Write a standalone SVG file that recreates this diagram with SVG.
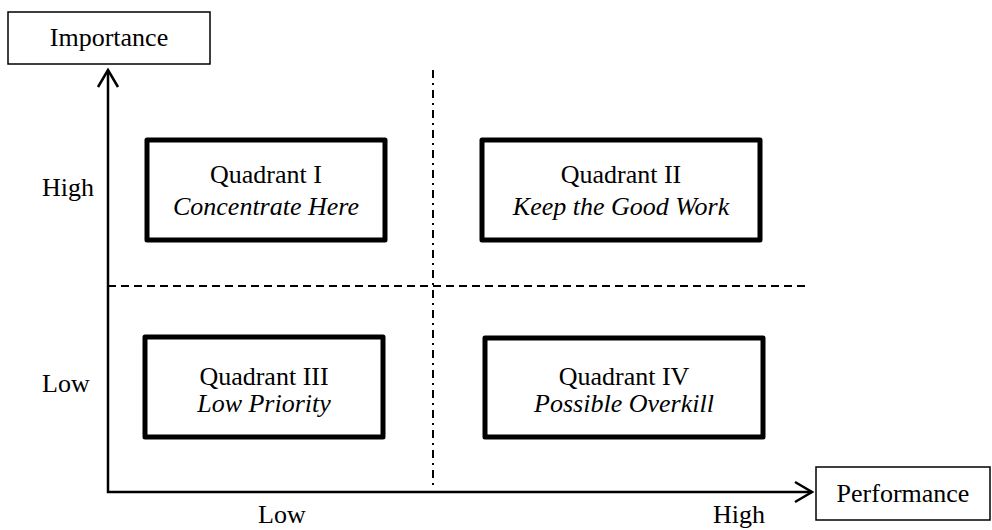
<svg xmlns="http://www.w3.org/2000/svg" width="992" height="530" viewBox="0 0 992 530">
<style>
text{font-family:"Liberation Serif","Times New Roman",serif;font-size:26px;fill:#000;text-anchor:middle}
.it{font-style:italic}
.lab{text-anchor:start}
.quad{fill:#fff;stroke:#000;stroke-width:5;stroke-linejoin:round}
.axbox{fill:#fff;stroke:#000;stroke-width:1.5}
.axis{stroke:#000;stroke-width:2.5;fill:none}
.dash{stroke:#000;stroke-width:2;stroke-dasharray:8 5;fill:none}
.dashdot{stroke:#000;stroke-width:2;stroke-dasharray:8 5 2 5;fill:none}
</style>
<rect width="992" height="530" fill="#fff"/>
<g id="connectors">
<path class="dash" d="M108 286H808"/>
<path class="dashdot" d="M433 70V488"/>
<path class="axis" d="M108 70V492H812"/>
<path class="axis" d="M98 87L108 70L118 87"/>
<path class="axis" d="M795 482L812 492L795 502"/>
</g>
<g id="importance">
<rect class="axbox" x="8" y="12" width="202" height="52"/>
<text x="109" y="46">Importance</text>
</g>
<g id="performance">
<rect class="axbox" x="816" y="467" width="174" height="53"/>
<text x="903" y="502">Performance</text>
</g>
<g id="q1">
<rect class="quad" x="147" y="140" width="238" height="100"/>
<text x="266" y="183">Quadrant I</text>
<text class="it" x="266" y="215">Concentrate Here</text>
</g>
<g id="q2">
<rect class="quad" x="482" y="140" width="278" height="100"/>
<text x="621" y="183">Quadrant II</text>
<text class="it" x="621" y="215">Keep the Good Work</text>
</g>
<g id="q3">
<rect class="quad" x="145" y="337" width="238" height="100"/>
<text x="264" y="385">Quadrant III</text>
<text class="it" x="264" y="412">Low Priority</text>
</g>
<g id="q4">
<rect class="quad" x="485" y="338" width="278" height="99"/>
<text x="624" y="385">Quadrant IV</text>
<text class="it" x="624" y="412">Possible Overkill</text>
</g>
<g id="labels">
<text class="lab" x="42" y="196">High</text>
<text class="lab" x="42" y="392">Low</text>
<text class="lab" x="258" y="523">Low</text>
<text class="lab" x="713" y="523">High</text>
</g>
</svg>
